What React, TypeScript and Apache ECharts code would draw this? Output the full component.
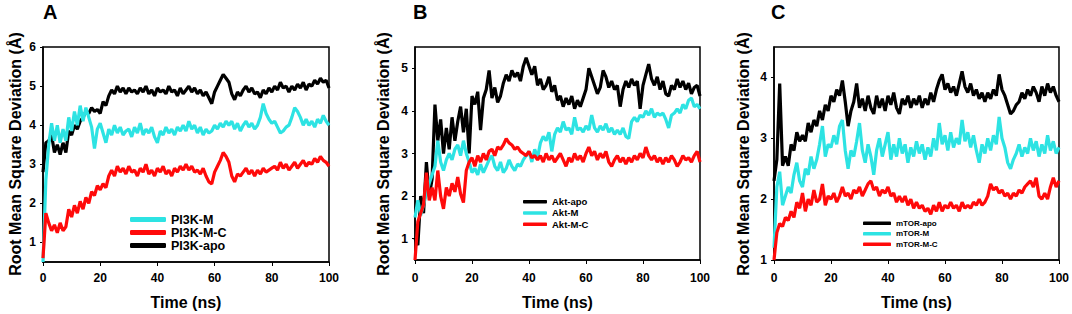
import React, { useEffect, useRef } from "react";
import * as echarts from "echarts";

const TIME = [0,1,2,3,4,5,6,7,8,9,10,11,12,13,14,15,16,17,18,19,20,21,22,23,24,25,26,27,28,29,30,31,32,33,34,35,36,37,38,39,40,41,42,43,44,45,46,47,48,49,50,51,52,53,54,55,56,57,58,59,60,61,62,63,64,65,66,67,68,69,70,71,72,73,74,75,76,77,78,79,80,81,82,83,84,85,86,87,88,89,90,91,92,93,94,95,96,97,98,99,100];

const X_TICKS = [0, 20, 40, 60, 80, 100];
const Y_TICKS_A = [1, 2, 3, 4, 5, 6];
const Y_TICKS_B = [1, 2, 3, 4, 5];
const Y_TICKS_C = [1, 2, 3, 4];

const PANEL_LETTERS = ["A", "B", "C"];
const Y_TITLE = "Root Mean Square Deviation (Å)";
const X_TITLE = "Time (ns)";

// Panel A – PI3K
const PI3K_M = [0.5,2.6,3.5,4.05,3.6,4.0,3.55,3.9,3.6,4.2,3.85,4.35,4.0,4.5,4.1,4.45,4.2,3.95,3.4,3.9,4.05,3.8,3.55,3.9,3.75,4.0,3.8,3.95,3.75,3.85,3.9,3.7,3.95,3.8,4.05,3.75,3.9,3.8,3.95,3.7,3.55,3.85,3.75,3.95,3.8,3.9,3.75,3.95,3.85,4.0,3.85,4.1,3.9,4.0,3.8,3.95,3.75,3.9,3.8,3.85,4.0,3.9,4.05,3.95,4.1,4.0,4.1,3.9,4.05,3.85,4.0,4.1,3.95,4.05,3.9,4.0,4.2,4.55,4.3,4.15,4.05,4.1,3.95,3.8,3.85,3.95,4.0,4.2,4.45,4.35,4.2,4.0,4.15,4.0,4.1,3.95,4.15,4.05,4.25,4.1,4.0];
const PI3K_M_C = [0.6,1.75,1.5,1.3,1.45,1.25,1.5,1.3,1.4,1.85,1.65,1.95,1.75,2.05,1.85,2.15,2.0,2.3,2.2,2.45,2.35,2.5,2.4,2.7,2.85,2.7,2.95,2.8,2.9,2.75,2.95,2.8,2.85,2.7,2.9,2.8,3.0,2.75,2.85,2.7,2.9,2.8,2.95,2.75,2.85,2.7,2.9,2.8,2.95,2.85,3.0,2.85,2.95,2.8,2.85,2.75,2.9,2.7,2.55,2.5,2.8,2.95,3.1,3.3,3.2,3.05,2.7,2.55,2.75,2.7,2.8,2.9,2.75,2.85,2.7,2.85,2.75,2.9,2.8,2.85,2.9,2.95,2.85,3.05,2.9,3.0,2.85,2.95,3.05,2.9,3.0,3.1,2.95,3.05,3.0,3.15,3.05,3.2,3.1,3.05,2.95];
const PI3K_APO = [2.8,3.55,3.6,3.75,3.3,3.5,3.25,3.55,3.3,3.85,3.75,4.0,3.9,4.1,4.2,4.35,4.3,4.45,4.35,4.4,4.3,4.6,4.5,4.75,4.9,4.8,5.0,4.85,4.95,4.8,4.95,4.85,4.9,4.8,4.95,4.85,5.0,4.8,4.9,4.75,4.95,4.85,4.9,4.8,5.0,4.85,4.9,4.75,4.95,4.8,4.9,5.0,4.85,4.95,4.8,4.9,4.75,4.85,4.7,4.55,4.85,5.0,5.15,5.3,5.2,5.1,4.8,4.65,4.85,4.75,4.9,5.0,4.85,4.95,4.8,4.85,4.7,4.9,4.8,4.95,4.85,5.0,4.9,5.1,4.95,5.0,4.85,5.0,4.9,5.05,4.95,5.1,4.9,5.05,5.0,5.15,5.05,5.2,5.1,5.15,4.95];

// Panel B – Akt
const AKT_APO = [1.0,0.85,2.0,1.6,2.8,2.0,2.4,4.15,3.3,3.8,3.0,3.6,3.1,3.85,3.3,3.75,4.1,3.5,4.05,3.0,4.35,4.15,4.45,3.55,4.3,4.5,4.95,4.3,4.55,4.2,4.35,4.65,4.85,4.7,4.95,4.8,4.9,4.7,5.05,5.25,5.05,4.85,5.05,4.6,4.75,4.5,4.6,4.8,4.45,4.6,4.25,4.35,4.1,4.3,4.15,4.35,4.05,4.25,4.1,4.3,4.5,5.0,4.8,4.6,4.4,4.55,4.95,4.8,4.55,4.7,4.5,4.6,4.1,4.5,4.7,4.55,4.75,4.6,4.7,4.05,4.6,4.85,5.1,4.75,4.6,4.8,4.5,4.7,4.4,4.35,4.6,4.5,4.75,4.55,4.7,4.5,4.65,4.4,4.55,4.6,4.35];
const AKT_M = [1.5,1.9,1.55,1.8,2.05,2.3,2.5,2.7,3.3,2.8,2.6,2.85,3.0,2.85,3.1,3.2,2.95,3.3,3.0,2.8,2.55,2.65,2.5,2.75,2.55,2.7,2.85,2.95,2.7,2.6,2.8,2.55,2.65,2.85,2.7,2.6,2.75,2.7,2.85,2.95,3.05,2.8,3.1,2.9,3.25,3.4,3.3,3.5,3.05,3.45,3.6,3.5,3.75,3.55,3.6,3.45,3.85,3.55,3.6,3.5,3.65,3.55,3.9,3.6,3.5,3.65,3.55,3.7,3.5,3.6,3.45,3.55,3.45,3.6,3.4,3.35,3.75,3.85,3.75,3.9,3.85,4.0,3.9,4.05,3.85,3.95,3.9,3.95,3.8,3.6,3.9,3.95,4.05,3.95,4.15,4.05,4.25,4.3,4.1,4.15,4.05];
const AKT_M_C = [0.5,1.4,1.6,1.8,2.55,1.9,2.2,1.9,2.6,2.0,1.7,2.2,2.0,2.3,2.1,2.45,2.05,1.85,2.6,2.8,2.9,2.7,2.95,2.8,3.0,2.85,3.05,3.1,2.95,3.15,3.1,3.2,3.35,3.25,3.2,3.1,3.15,3.05,3.0,2.95,3.05,2.9,2.95,2.85,2.95,2.8,3.0,2.85,2.95,2.8,2.9,3.0,2.85,2.7,2.9,2.8,3.0,2.85,2.95,2.8,3.0,3.15,2.95,3.05,2.85,3.0,2.9,3.05,2.8,2.7,2.85,2.95,2.8,2.9,2.75,2.9,2.8,2.95,2.85,3.0,2.9,3.15,2.95,2.85,2.95,2.8,2.9,2.75,2.9,2.8,2.95,2.85,2.7,2.8,2.95,2.85,2.9,2.8,2.95,3.05,2.8];

// Panel C – mTOR
const MTOR_APO = [2.3,2.65,3.9,2.55,2.7,2.55,2.9,2.8,3.1,2.95,3.05,2.95,3.25,3.1,3.3,3.2,3.45,3.3,3.55,3.45,3.7,3.6,3.8,3.7,3.95,3.6,3.2,3.45,3.6,3.9,3.5,3.65,3.45,3.7,3.5,3.4,3.7,3.5,3.65,3.45,3.7,3.55,3.75,3.5,3.4,3.65,3.55,3.7,3.5,3.65,3.55,3.7,3.5,3.65,3.55,3.75,3.6,3.8,3.95,4.05,3.8,3.9,3.75,3.85,3.7,3.9,4.1,3.85,3.75,3.9,3.7,3.8,3.65,3.75,3.6,3.75,3.65,3.8,3.7,4.05,3.8,3.7,3.55,3.4,3.45,3.55,3.6,3.75,3.65,3.8,3.7,3.85,3.75,3.6,3.85,3.7,3.9,3.75,3.85,3.7,3.6];
const MTOR_M = [1.2,2.2,2.45,1.9,2.05,2.2,2.1,2.4,2.6,2.3,2.2,2.5,2.4,2.7,2.5,2.65,2.9,3.2,2.7,2.9,2.85,3.05,2.9,3.2,3.3,2.8,2.5,2.8,2.7,2.95,3.25,2.8,2.6,2.9,2.7,2.4,2.8,3.0,2.7,2.9,3.1,2.65,2.9,2.7,3.0,2.75,2.9,2.6,2.85,2.7,2.95,2.75,2.9,2.65,2.85,2.7,3.0,2.8,3.25,2.9,3.05,2.8,3.1,2.85,3.0,2.9,3.3,2.95,3.1,2.85,3.05,2.8,2.6,2.9,2.75,3.0,2.8,3.05,2.9,3.35,3.0,2.85,2.6,2.5,2.65,2.75,2.9,2.7,2.85,2.75,3.0,2.8,2.95,2.7,2.9,2.75,3.05,2.8,2.95,2.75,2.85];
const MTOR_M_C = [1.0,1.45,1.6,1.55,1.7,1.65,1.8,1.7,1.95,1.85,2.1,1.8,2.0,1.9,2.15,1.95,2.0,2.25,1.9,2.05,2.0,2.1,1.95,2.05,2.2,2.05,2.1,2.0,2.15,2.1,2.2,2.05,2.15,2.25,2.3,2.15,2.2,2.05,2.15,2.1,2.2,2.05,2.1,1.95,2.05,1.95,2.05,1.9,2.0,1.85,1.95,1.85,1.9,1.8,1.85,1.75,1.9,1.8,1.95,1.8,1.9,1.85,1.95,1.85,1.9,1.8,1.95,1.85,1.9,1.85,1.95,1.9,2.0,1.9,1.95,2.05,2.25,2.15,2.2,2.1,2.15,2.05,2.1,2.0,2.1,2.05,2.15,2.1,2.2,2.25,2.3,2.2,2.35,2.05,2.0,2.1,2.0,2.2,2.35,2.2,2.3];

const BLACK = "#000000";
const CYAN = "#2de3e3";
const RED = "#ff0a0a";
const FONT = "'Liberation Sans', Arial, sans-serif";

const pairs = (vals: number[]) => TIME.map((t, i) => [t, vals[i]]);

export default function App() {
  const ref = useRef<HTMLDivElement>(null);
  useEffect(() => {
    if (!ref.current) return;
    const chart = echarts.init(ref.current, null, { renderer: "svg" });

    const grids = [
      { left: 43, top: 47, width: 286, height: 215 },
      { left: 415, top: 47, width: 285, height: 213 },
      { left: 774, top: 47, width: 285, height: 213 },
    ];
    const yRanges = [
      { min: 0.5, max: 6, ticks: Y_TICKS_A },
      { min: 0.5, max: 5.5, ticks: Y_TICKS_B },
      { min: 1, max: 4.5, ticks: Y_TICKS_C },
    ];
    const xMargins = [10, 12, 12];

    const xAxis = grids.map((_, i) => ({
      type: "value",
      gridIndex: i,
      min: 0,
      max: 100,
      axisLine: { show: true, lineStyle: { color: BLACK, width: 1.5 } },
      axisTick: { show: true, inside: false, length: 4, lineStyle: { color: BLACK, width: 1 }, customValues: X_TICKS },
      axisLabel: { color: BLACK, fontWeight: "bold", fontSize: 12, fontFamily: FONT, margin: xMargins[i], customValues: X_TICKS },
      splitLine: { show: false },
    }));
    const yAxis = yRanges.map((r, i) => ({
      type: "value",
      gridIndex: i,
      min: r.min,
      max: r.max,
      axisLine: { show: true, lineStyle: { color: BLACK, width: 1.5 } },
      axisTick: { show: true, inside: false, length: 3, lineStyle: { color: BLACK, width: 1 }, customValues: r.ticks },
      axisLabel: { color: BLACK, fontWeight: "bold", fontSize: 12, fontFamily: FONT, margin: 7, customValues: r.ticks },
      splitLine: { show: false },
    }));

    const mk = (name: string, vals: number[], color: string, idx: number) => ({
      name,
      type: "line",
      xAxisIndex: idx,
      yAxisIndex: idx,
      data: pairs(vals),
      showSymbol: false,
      symbol: "none",
      lineStyle: { color, width: 3.2 },
      itemStyle: { color },
      silent: true,
    });

    const series = [
      mk("PI3K-apo", PI3K_APO, BLACK, 0),
      mk("PI3K-M", PI3K_M, CYAN, 0),
      mk("PI3K-M-C", PI3K_M_C, RED, 0),
      mk("Akt-apo", AKT_APO, BLACK, 1),
      mk("Akt-M", AKT_M, CYAN, 1),
      mk("Akt-M-C", AKT_M_C, RED, 1),
      mk("mTOR-apo", MTOR_APO, BLACK, 2),
      mk("mTOR-M", MTOR_M, CYAN, 2),
      mk("mTOR-M-C", MTOR_M_C, RED, 2),
    ];

    const legendBase = {
      orient: "vertical",
      icon: "roundRect",
      itemGap: 0,
      padding: 0,
      selectedMode: false,
    };
    const legend = [
      { ...legendBase, data: ["PI3K-M", "PI3K-M-C", "PI3K-apo"], left: 130, top: 213, itemWidth: 36, itemHeight: 5,
        textStyle: { color: BLACK, fontWeight: "bold", fontSize: 12.5, fontFamily: FONT, lineHeight: 11.5 } },
      { ...legendBase, data: ["Akt-apo", "Akt-M", "Akt-M-C"], left: 523, top: 196, itemWidth: 24, itemHeight: 3.5,
        textStyle: { color: BLACK, fontWeight: "bold", fontSize: 9.5, fontFamily: FONT, lineHeight: 11.3 } },
      { ...legendBase, data: ["mTOR-apo", "mTOR-M", "mTOR-M-C"], left: 863, top: 218, itemWidth: 28, itemHeight: 3.5,
        textStyle: { color: BLACK, fontWeight: "bold", fontSize: 8, fontFamily: FONT, lineHeight: 10.5 } },
    ];

    const letterX = [43, 413, 771];
    const yTitleX = [15, 383, 743];
    const xTitleX = [186, 557.5, 916.5];
    const graphic: any[] = [];
    for (let i = 0; i < 3; i++) {
      graphic.push({
        type: "text",
        x: letterX[i],
        y: 11.5,
        style: { text: PANEL_LETTERS[i], fill: BLACK, font: `bold 20px ${FONT}`, textAlign: "left", textVerticalAlign: "middle" },
      });
      graphic.push({
        type: "text",
        x: yTitleX[i],
        y: 154,
        rotation: Math.PI / 2,
        style: { text: Y_TITLE, fill: BLACK, font: `bold 16px ${FONT}`, textAlign: "center", textVerticalAlign: "middle" },
      });
      graphic.push({
        type: "text",
        x: xTitleX[i],
        y: 302,
        style: { text: X_TITLE, fill: BLACK, font: `bold 16px ${FONT}`, textAlign: "center", textVerticalAlign: "middle" },
      });
    }

    chart.setOption({
      animation: false,
      backgroundColor: "#ffffff",
      grid: grids.map((g) => ({ ...g, show: true, borderColor: BLACK, borderWidth: 1.5, backgroundColor: "transparent", containLabel: false })),
      xAxis,
      yAxis,
      series,
      legend,
      graphic,
    });
    return () => chart.dispose();
  }, []);

  return <div ref={ref} style={{ position: "absolute", left: 0, top: 0, width: 1072, height: 314, background: "#fff" }} />;
}
